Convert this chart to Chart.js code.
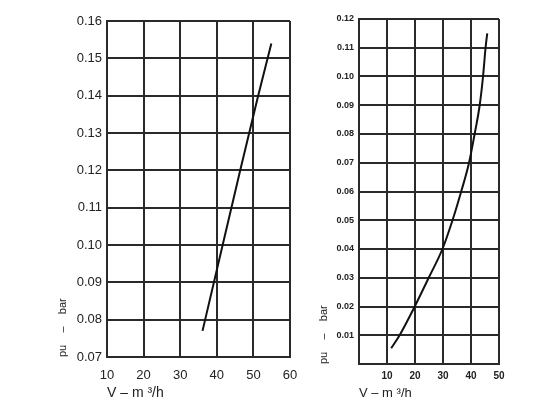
<!DOCTYPE html>
<html>
<head>
<meta charset="utf-8">
<script src="https://cdn.jsdelivr.net/npm/chart.js@4"></script>
<style>
  html, body { margin: 0; padding: 0; background: #fff; }
  #page { position: relative; width: 560px; height: 420px; overflow: hidden; }
  .box { position: absolute; top: 0; height: 420px; }
  #box-left  { left: 0;     width: 300px; }
  #box-right { left: 300px; width: 260px; }
</style>
</head>
<body>
<div id="page">
  <div class="box" id="box-left"><canvas id="chart-left"></canvas></div>
  <div class="box" id="box-right"><canvas id="chart-right"></canvas></div>
</div>
<script>
// left diagram: straight characteristic
const leftFlow     = [36.1, 41.6, 46.4, 51.3, 54.9];
const leftPressure = [0.077, 0.100, 0.120, 0.140, 0.154];
const leftXTicks   = [10, 20, 30, 40, 50, 60];
const leftYTicks   = [0.07, 0.08, 0.09, 0.10, 0.11, 0.12, 0.13, 0.14, 0.15, 0.16];

// right diagram: curved characteristic
const rightFlow     = [11.5, 14.5, 19.9, 24.9, 29.8, 33.4, 36.5, 39.3, 41.3, 43.1, 44.3, 45.2, 45.8];
const rightPressure = [0.0055, 0.010, 0.020, 0.030, 0.040, 0.050, 0.060, 0.070, 0.080, 0.090, 0.100, 0.110, 0.115];
const rightXTicks   = [0, 10, 20, 30, 40, 50];
const rightYTicks   = [0, 0.01, 0.02, 0.03, 0.04, 0.05, 0.06, 0.07, 0.08, 0.09, 0.10, 0.11, 0.12];

const xTitle = 'V – m ³/h';
const yTitle = 'pu    –    bar';

Chart.defaults.font.family = '"Liberation Sans", Arial, Helvetica, sans-serif';
Chart.defaults.color = '#222';
Chart.defaults.animation = false;

const gridColor = '#2a2a2a';

function toPoints(xs, ys) {
  return xs.map((x, i) => ({ x: x, y: ys[i] }));
}

function makeChart(id, cfg) {
  return new Chart(document.getElementById(id), {
    type: 'line',
    data: {
      datasets: [{
        data: toPoints(cfg.xs, cfg.ys),
        borderColor: '#111',
        borderWidth: 2,
        pointRadius: 0,
        fill: false,
        tension: cfg.curved ? 0.4 : 0,
        cubicInterpolationMode: cfg.curved ? 'monotone' : 'default',
      }]
    },
    options: {
      responsive: true,
      maintainAspectRatio: false,
      layout: { padding: cfg.padding },
      plugins: { legend: { display: false }, tooltip: { enabled: false } },
      scales: {
        x: {
          type: 'linear',
          min: cfg.xTicks[0],
          max: cfg.xTicks[cfg.xTicks.length - 1],
          afterBuildTicks: s => { s.ticks = cfg.xTicks.map(v => ({ value: v })); },
          afterFit: s => { s.height = cfg.xHeight; s.paddingLeft = 0; s.paddingRight = 0; },
          grid: { color: gridColor, lineWidth: 2, drawTicks: false },
          border: { display: true, color: gridColor, width: 2 },
          ticks: {
            padding: cfg.xTickPad,
            font: { size: cfg.xTickSize, weight: cfg.tickWeight },
            maxRotation: 0,
            callback: v => (v === 0 ? '' : String(v)),
          },
          title: {
            display: true, text: xTitle, align: 'start',
            font: { size: cfg.xTitleSize },
            padding: { top: 0, bottom: cfg.xTitlePad },
          },
        },
        y: {
          type: 'linear',
          min: cfg.yTicks[0],
          max: cfg.yTicks[cfg.yTicks.length - 1],
          afterBuildTicks: s => { s.ticks = cfg.yTicks.map(v => ({ value: v })); },
          afterFit: s => { s.width = cfg.yWidth; s.paddingTop = 0; s.paddingBottom = 0; },
          grid: { color: gridColor, lineWidth: 2, drawTicks: false },
          border: { display: true, color: gridColor, width: 2 },
          ticks: {
            padding: 5,
            font: { size: cfg.yTickSize, weight: cfg.tickWeight },
            callback: v => (v === 0 ? '' : v.toFixed(2)),
          },
          title: {
            display: true, text: yTitle, align: 'start',
            font: { size: 11 },
            padding: { top: cfg.yTitlePad, bottom: 0 },
          },
        },
      },
    },
  });
}

makeChart('chart-left', {
  xs: leftFlow, ys: leftPressure, curved: false,
  xTicks: leftXTicks, yTicks: leftYTicks,
  padding: { top: 21, right: 10, bottom: 0, left: 0 },
  xHeight: 63, yWidth: 107,
  xTickPad: 11, xTickSize: 13, yTickSize: 13, tickWeight: 'normal',
  xTitleSize: 14, xTitlePad: 18, yTitlePad: 56,
});

makeChart('chart-right', {
  xs: rightFlow, ys: rightPressure, curved: true,
  xTicks: rightXTicks, yTicks: rightYTicks,
  padding: { top: 19, right: 61, bottom: 0, left: 0 },
  xHeight: 56, yWidth: 59,
  xTickPad: 6, xTickSize: 10, yTickSize: 9, tickWeight: 'bold',
  xTitleSize: 13, xTitlePad: 19, yTitlePad: 17,
});
</script>
</body>
</html>
